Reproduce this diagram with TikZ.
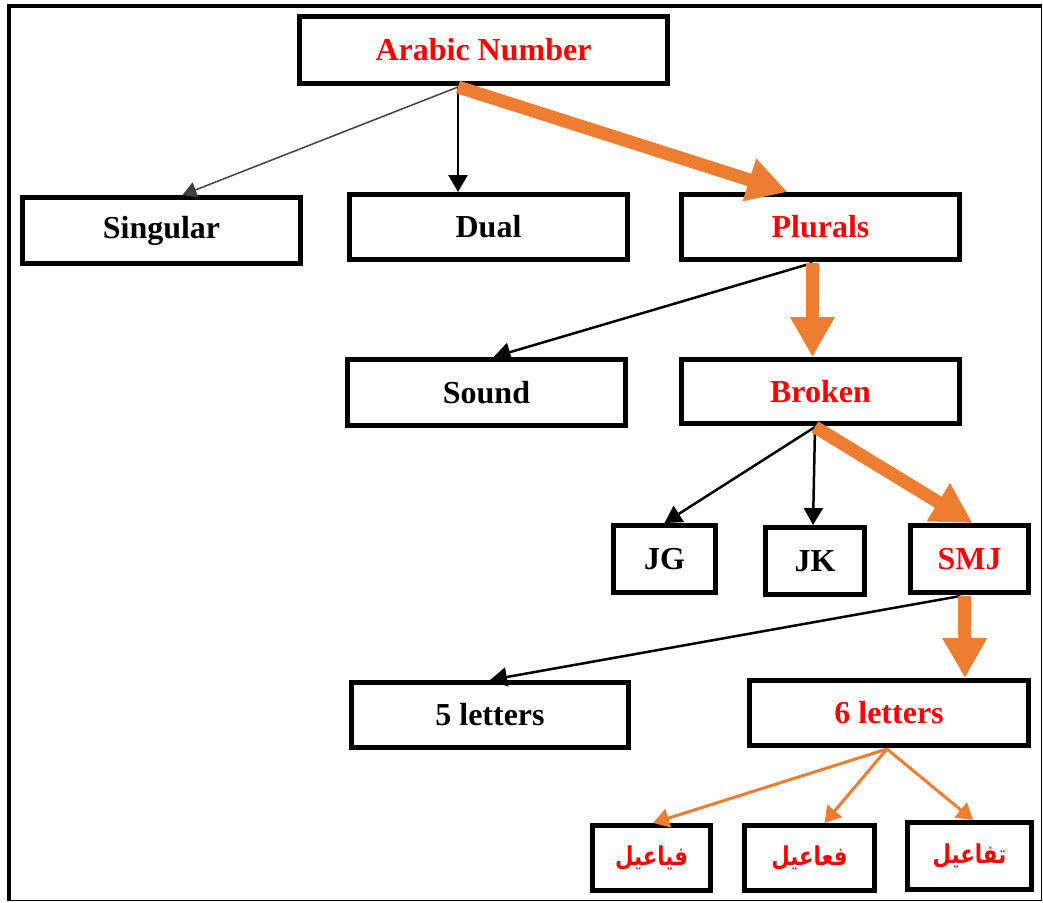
\documentclass[tikz,border=0pt]{standalone}
\usepackage{fontspec}
\setmainfont{Liberation Serif}
\newfontfamily\arabicfont[Script=Arabic, FakeStretch=0.82]{DejaVu Sans}
\TeXXeTstate=1
\usetikzlibrary{arrows.meta}

\definecolor{treeorange}{HTML}{ED7D31}
\definecolor{treered}{HTML}{FF0000}

\tikzset{
  box/.style={draw=black, line width=5pt, fill=white, inner sep=0pt,
    font=\bfseries\fontsize{32}{36}\selectfont, text=black},
  hot/.style={text=treered},
  arabic/.style={font=\arabicfont\bfseries\fontsize{26}{30}\selectfont, text=treered},
  thinarr/.style={draw=black!75, line width=1.5pt, -{Triangle[length=14pt,width=16pt]}},
  blkarr/.style={draw=black, line width=2.5pt, -{Triangle[length=17pt,width=19pt]}},
  bigarr/.style={draw=treeorange, line width=13pt, -{Triangle[length=40pt,width=42pt]}},
  orarr/.style={draw=treeorange, line width=3pt, -{Triangle[length=16pt,width=19pt]}},
}

\begin{document}
\begin{tikzpicture}[x=1pt,y=-1pt]
\useasboundingbox (0,0) rectangle (1043,902);
\fill[white] (0,0) rectangle (1043,902);

% page frame: heavy top/left edge, light bottom/right edge
\draw[line width=4pt] (9,901) -- (9,5.5) -- (1042,5.5);
\draw[line width=1.5pt] (9,900.5) -- (1041.5,900.5) -- (1041.5,5.5);

% level 0
\node[box, hot, minimum width=368pt, minimum height=67pt] (an) at (483.5,50) {Arabic Number};
% level 1
\node[box, minimum width=278pt, minimum height=66pt] (sing) at (161.5,230.5) {Singular};
\node[box, minimum width=278pt, minimum height=65pt] (dual) at (488.5,227) {Dual};
\node[box, hot, minimum width=278pt, minimum height=65pt] (plur) at (820.5,227) {Plurals};
% level 2
\node[box, minimum width=278pt, minimum height=66pt] (sound) at (486.5,392.5) {Sound};
\node[box, hot, minimum width=278pt, minimum height=64pt] (broken) at (820.5,391.5) {Broken};
% level 3
\node[box, minimum width=102pt, minimum height=67pt] (jg) at (664.5,559) {JG};
\node[box, minimum width=99pt, minimum height=67pt] (jk) at (815,561) {JK};
\node[box, hot, minimum width=118pt, minimum height=67pt] (smj) at (969.5,559) {SMJ};
% level 4
\node[box, minimum width=277pt, minimum height=65pt] (five) at (490,715) {5 letters};
\node[box, hot, minimum width=279pt, minimum height=65pt] (six) at (889,713) {6 letters};
% level 5
\node[box, arabic, minimum width=118pt, minimum height=65pt] (a1) at (651.5,858) {\beginR فياعيل\endR};
\node[box, arabic, minimum width=130pt, minimum height=65pt] (a2) at (809.5,858) {\beginR فعاعيل\endR};
\node[box, arabic, minimum width=124pt, minimum height=67pt] (a3) at (969.5,856) {\beginR تفاعيل\endR};

% branching points under each parent
\coordinate (anO) at ([xshift=-25.5pt,yshift=-1pt]an.south);
\coordinate (plO) at ([xshift=-8pt,yshift=-1pt]plur.south);
\coordinate (brO) at ([xshift=-5.5pt,yshift=-1pt]broken.south);
\coordinate (smO) at ([xshift=-9pt,yshift=-1pt]smj.south);
\coordinate (sxO) at ([xshift=-2pt,yshift=-1pt]six.south);

% connectors
\draw[thinarr] (anO) -- ([xshift=21pt]sing.north);
\draw[blkarr] (anO) -- ([xshift=-30.5pt]dual.north);
\draw[bigarr] (anO) -- ([xshift=-33pt]plur.north);

\draw[blkarr] (plO) -- ([xshift=7pt]sound.north);
\draw[bigarr] (plO) -- ([xshift=-8pt]broken.north);

\draw[blkarr] (brO) -- (jg.north);
\draw[blkarr] (brO) -- ([xshift=-2pt]jk.north);
\draw[bigarr] (brO) -- ([xshift=3pt]smj.north);

\draw[blkarr] (smO) -- (five.north);
\draw[bigarr] ([xshift=4pt]smO) -- ([xshift=76pt]six.north);

\draw[orarr] (sxO) -- ([xshift=1.5pt]a1.north);
\draw[orarr] (sxO) -- ([xshift=15pt]a2.north);
\draw[orarr] (sxO) -- ([xshift=3.5pt]a3.north);
\end{tikzpicture}
\end{document}
